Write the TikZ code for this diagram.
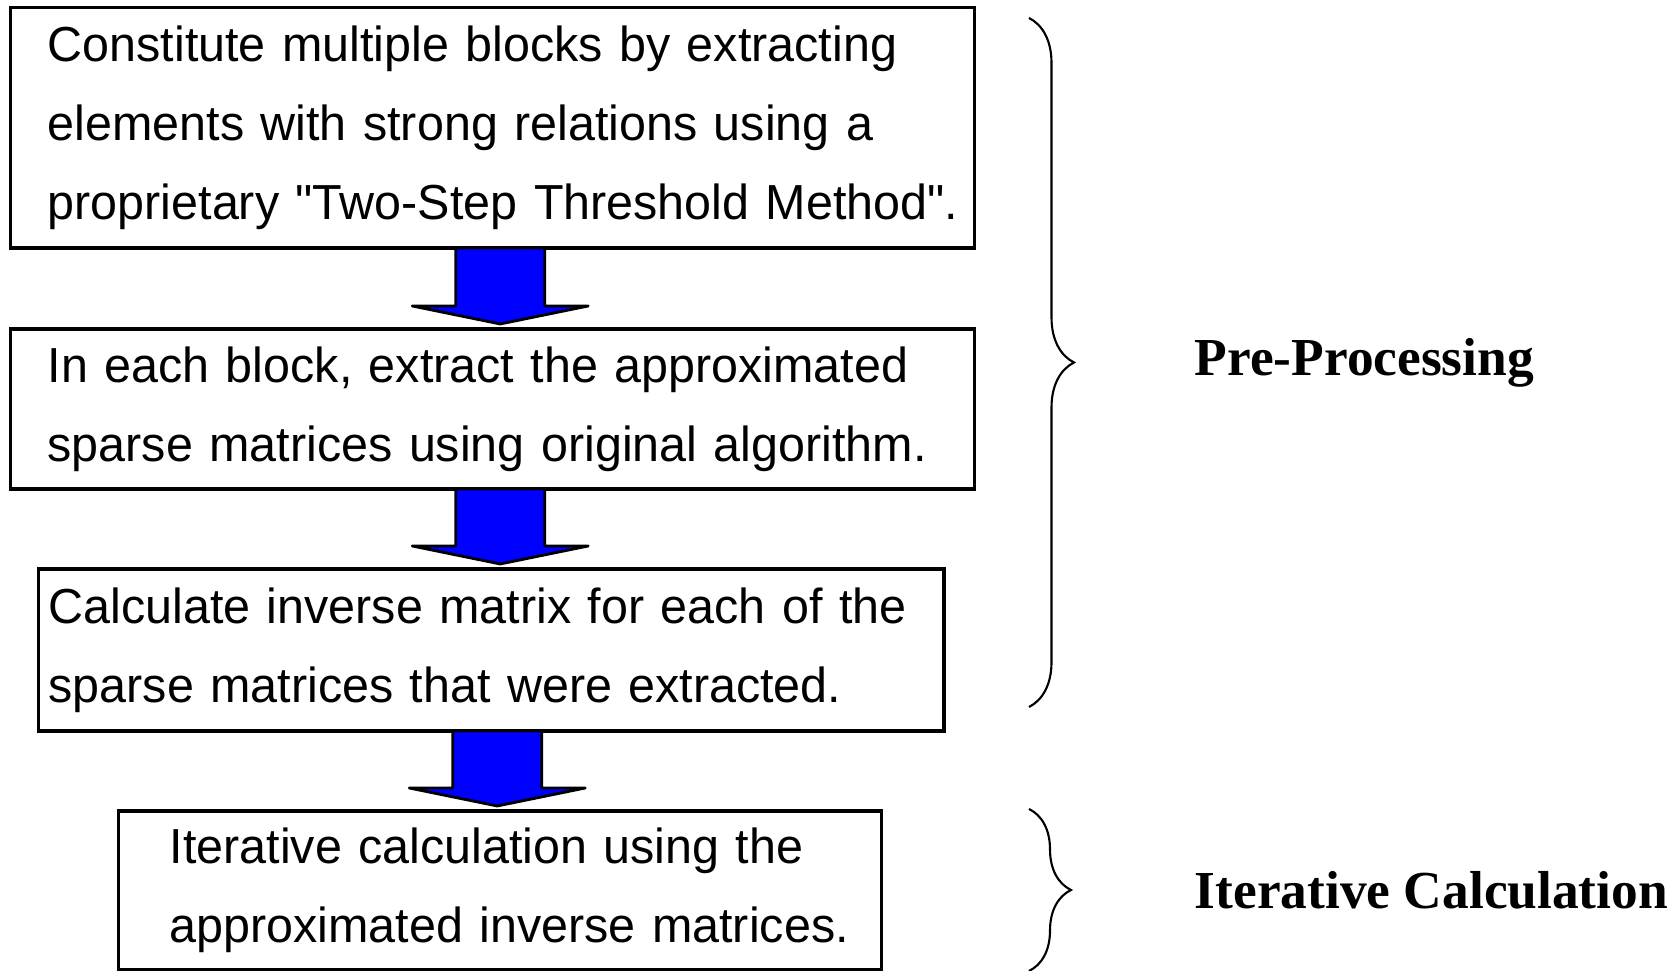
\documentclass[tikz,border=0pt]{standalone}
\usepackage{fontspec}
\usepackage{tikz}
\usetikzlibrary{calc,positioning,decorations.pathreplacing}
\newfontfamily\boxfont[FakeStretch=0.985]{Liberation Sans}
\newfontfamily\labelfont{Liberation Serif}
\definecolor{flowblue}{RGB}{0,0,255}
\tikzset{
  stepbox/.style={draw=black, line width=1pt, fill=white, anchor=north west, outer sep=0pt,
                  align=left, inner ysep=0pt, font=\boxfont\fontsize{14}{22.5}\selectfont},
  blockarrow/.style={draw=black, fill=flowblue, line width=0.8pt, line join=round},
  groupbrace/.style={decorate, decoration={brace, amplitude=#1}, line width=0.6pt},
  grouplabel/.style={font=\labelfont\bfseries\fontsize{15.2}{18}\selectfont, inner sep=0pt},
}

\begin{document}
\begin{tikzpicture}[x=1cm,y=1cm]
  \useasboundingbox (0,0) rectangle (16.75,9.71);
  % ---- flow boxes ----
  \node[stepbox, inner xsep=0.37cm, text width=8.90cm, minimum height=2.405cm] (box1) at (0.107,9.635)
    {Constitute multiple blocks by extracting\\ elements with strong relations using a\\
     \mbox{proprietary "Two-Step Threshold Method".}};
  \node[stepbox, inner xsep=0.37cm, text width=8.90cm, minimum height=1.60cm] (box2) at (0.107,6.42)
    {In each block, extract the approximated\\ \mbox{sparse matrices using original algorithm.}};
  \node[stepbox, inner xsep=0.10cm, text width=8.855cm, minimum height=1.62cm] (box3) at (0.385,4.02)
    {Calculate inverse matrix for each of the\\ sparse matrices that were extracted.};
  \node[stepbox, inner xsep=0.51cm, text width=6.61cm, minimum height=1.59cm] (box4) at (1.186,1.60)
    {Iterative calculation using the\\ \mbox{approximated inverse matrices.}};
  % ---- block arrows between boxes ----
  \foreach \a/\b/\dx in {box1/box2/0.075, box2/box3/0.075, box3/box4/0.06}{
    \draw[blockarrow] let \p1=($(\a.south)+(\dx,0)$), \p2=(\b.north) in
      (\x1-0.445cm,\y1) -- (\x1+0.445cm,\y1) -- (\x1+0.445cm,\y2+0.23cm) -- (\x1+0.88cm,\y2+0.23cm)
      -- (\x1,\y2+0.05cm) -- (\x1-0.88cm,\y2+0.23cm) -- (\x1-0.445cm,\y2+0.23cm) -- cycle;
  }
  % ---- braces and stage names ----
  \coordinate (pretop) at (10.29,9.53);
  \coordinate (prebot) at (10.29,2.64);
  \coordinate (pretip) at (10.74,6.08);
  \coordinate (itertop) at (10.29,1.62);
  \coordinate (iterbot) at (10.29,0.0);
  \coordinate (itertip) at (10.71,0.81);
  \draw[groupbrace=0.45cm] (pretop) -- (prebot);
  \draw[groupbrace=0.42cm] (itertop) -- (iterbot);
  \node[grouplabel, right=1.2cm of pretip] (prelbl) {Pre-Processing};
  \node[grouplabel, right=1.23cm of itertip] (iterlbl) {Iterative Calculation};
\end{tikzpicture}
\end{document}
